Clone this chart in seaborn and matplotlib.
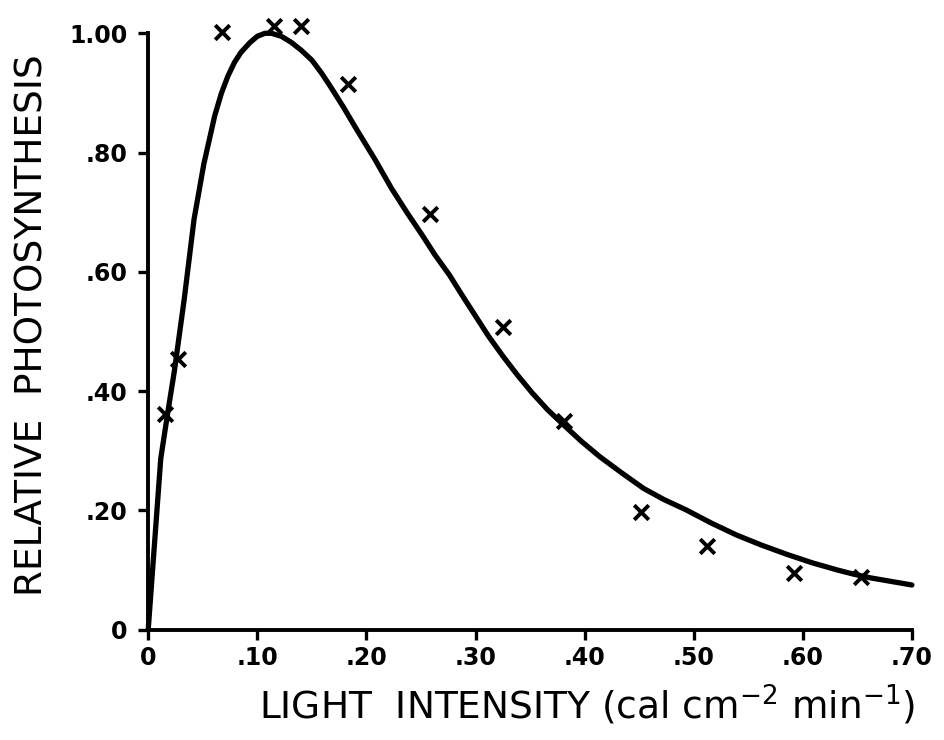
import matplotlib
matplotlib.use("Agg")
import matplotlib.pyplot as plt
import seaborn as sns
import pandas as pd

# measured points (x markers)
obs_light = [0.015, 0.027, 0.068, 0.115, 0.140, 0.183, 0.258, 0.325,
             0.381, 0.452, 0.512, 0.592, 0.653]
obs_photo = [0.361, 0.454, 1.002, 1.012, 1.012, 0.915, 0.697, 0.508,
             0.350, 0.198, 0.140, 0.095, 0.089]

# fitted curve
curve_light = [0.0, 0.006, 0.0115, 0.018, 0.024, 0.033, 0.042, 0.051, 0.061,
               0.067, 0.073, 0.079, 0.085, 0.093, 0.100, 0.107, 0.113, 0.122,
               0.131, 0.140, 0.150, 0.159, 0.168, 0.179, 0.190, 0.199,
               0.208, 0.223, 0.237, 0.251, 0.263, 0.276, 0.288, 0.300,
               0.312, 0.325, 0.338, 0.352, 0.366, 0.381, 0.397, 0.414,
               0.434, 0.454, 0.473, 0.493, 0.516, 0.539, 0.562, 0.586,
               0.609, 0.632, 0.647, 0.662, 0.681, 0.700]
curve_photo = [0.0, 0.150, 0.287, 0.365, 0.434, 0.554, 0.688, 0.781, 0.862,
               0.899, 0.928, 0.951, 0.968, 0.984, 0.995, 1.000, 1.000, 0.995,
               0.985, 0.972, 0.955, 0.933, 0.908, 0.876, 0.842, 0.815,
               0.788, 0.740, 0.700, 0.662, 0.628, 0.595, 0.560, 0.526,
               0.492, 0.459, 0.428, 0.397, 0.369, 0.343, 0.316, 0.290,
               0.263, 0.237, 0.218, 0.201, 0.179, 0.159, 0.142, 0.126,
               0.112, 0.100, 0.093, 0.087, 0.081, 0.075]

x_ticks = [0, 0.10, 0.20, 0.30, 0.40, 0.50, 0.60, 0.70]
x_labels = ["0", ".10", ".20", ".30", ".40", ".50", ".60", ".70"]
y_ticks = [0, 0.20, 0.40, 0.60, 0.80, 1.00]
y_labels = ["0", ".20", ".40", ".60", ".80", "1.00"]

obs = pd.DataFrame({"light": obs_light, "photo": obs_photo})
curve = pd.DataFrame({"light": curve_light, "photo": curve_photo})

sns.set_style("ticks")
plt.rcParams["font.family"] = ["DejaVu Sans"]
plt.rcParams["text.color"] = "black"
plt.rcParams["axes.labelcolor"] = "black"
plt.rcParams["xtick.color"] = "black"
plt.rcParams["ytick.color"] = "black"
plt.rcParams["axes.edgecolor"] = "black"

fig = plt.figure(figsize=(9.44, 7.4), dpi=100)
ax = fig.add_axes([0.157, 0.149, 0.809, 0.806])

sns.lineplot(data=curve, x="light", y="photo", color="black", linewidth=3.8,
             ax=ax, clip_on=False)
sns.scatterplot(data=obs, x="light", y="photo", marker="x", s=110,
                color="black", linewidth=2.8, ax=ax, clip_on=False, zorder=5)

ax.set_xlim(0, 0.70)
ax.set_ylim(0, 1.0)
ax.set_xticks(x_ticks)
ax.set_xticklabels(x_labels)
ax.set_yticks(y_ticks)
ax.set_yticklabels(y_labels)
ax.tick_params(direction="out", length=7, width=2.4, labelsize=17, pad=8)
ax.tick_params(axis="x", pad=5)
for lab in ax.get_xticklabels() + ax.get_yticklabels():
    lab.set_fontweight("bold")

sns.despine(ax=ax)
for side in ["left", "bottom"]:
    ax.spines[side].set_linewidth(2.8)

ax.set_xlabel("LIGHT  INTENSITY (cal cm$^{-2}$ min$^{-1}$)", fontsize=27)
ax.set_ylabel("RELATIVE  PHOTOSYNTHESIS", fontsize=27)
ax.xaxis.set_label_coords(0.575, -0.09)
ax.yaxis.set_label_coords(-0.128, 0.51)

plt.savefig("out.png", dpi=100)
